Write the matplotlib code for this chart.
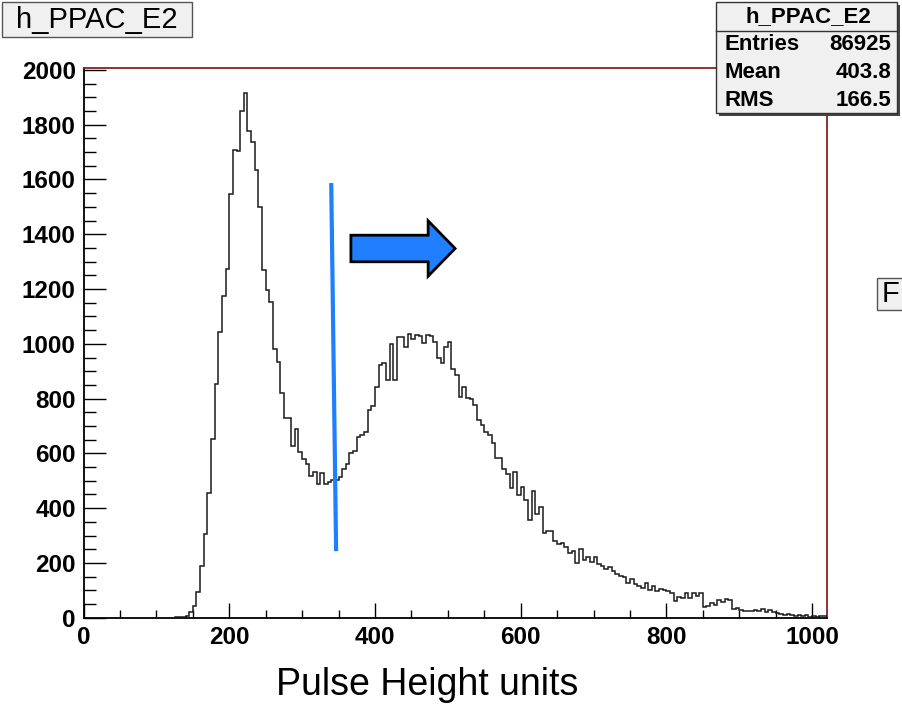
import numpy as np
import matplotlib
matplotlib.use("Agg")
import matplotlib.pyplot as plt
import matplotlib.patches as mpatches

plt.rcParams['font.family'] = ['Liberation Sans', 'DejaVu Sans']

# histogram h_PPAC_E2: 5-unit bins from 0 to 1020
bin_lo, bin_hi, bin_width = 0, 1020, 5
counts = [
    0, 0, 0, 0, 0, 0, 0, 0, 0, 0,                                # 0-50
    0, 0, 0, 0, 0, 0, 0, 0, 0, 0,                                # 50-100
    0, 0, 0, 0, 0, 1, 2, 3, 8, 22,                               # 100-150
    43, 93, 189, 306, 456, 651, 853, 1044, 1174, 1272,           # 150-200
    1546, 1706, 1704, 1851, 1915, 1778, 1738, 1635, 1498, 1269,  # 200-250
    1196, 1151, 980, 935, 819, 728, 728, 627, 688, 606,          # 250-300
    578, 561, 517, 533, 487, 527, 487, 497, 503, 503,            # 300-350
    515, 542, 561, 600, 609, 661, 667, 679, 758, 773,            # 350-400
    843, 922, 931, 868, 998, 868, 1026, 1026, 987, 1036,         # 400-450
    1016, 1032, 1028, 1002, 1032, 1028, 1008, 947, 929, 987,     # 450-500
    1005, 908, 886, 807, 841, 801, 798, 776, 722, 703,           # 500-550
    679, 667, 637, 584, 584, 542, 524, 472, 533, 448,            # 550-600
    476, 430, 357, 464, 379, 403, 310, 318, 318, 280,            # 600-650
    268, 274, 257, 237, 245, 200, 250, 211, 222, 205,            # 650-700
    222, 195, 190, 178, 185, 170, 160, 152, 147, 128,            # 700-750
    142, 122, 114, 110, 125, 102, 114, 98, 106, 101,             # 750-800
    98, 90, 62, 77, 71, 90, 71, 92, 80, 90,                      # 800-850
    40, 42, 52, 46, 65, 58, 67, 65, 31, 34,                      # 850-900
    28, 26, 25, 23, 28, 23, 31, 22, 28, 19,                      # 900-950
    17, 14, 10, 12, 9, 7, 10, 7, 9, 4,                           # 950-1000
    8, 4, 5, 6,                                                  # 1000-1020
]
edges = np.arange(bin_lo, bin_hi + bin_width, bin_width)

hist_name = 'h_PPAC_E2'
stats_labels = ['Entries', 'Mean', 'RMS']
stats_values = ['86925', '403.8', '166.5']
x_label = 'Pulse Height units'

# cut line and arrow drawn over the histogram (data units)
cut_line_x = [340, 346.7]
cut_line_y = [1587, 243]
arrow_x0, arrow_x1, arrow_y = 367, 510, 1348

W, H = 902, 704
def fx(px):
    return px / W
def fy(py):
    return 1 - py / H

fig = plt.figure(figsize=(W / 100, H / 100), dpi=100)
fig.patch.set_facecolor('white')
ax = fig.add_axes([fx(83.5), fy(617.7), fx(826.7) - fx(83.5), fy(68) - fy(617.7)])

ax.stairs(counts, edges, color='#1a1a1a', lw=1.1, zorder=3)
ax.set_xlim(0, 1020)
ax.set_ylim(0, 2007)

ax.set_xticks(np.arange(0, 1001, 200))
ax.set_xticks(np.arange(0, 1001, 50), minor=True)
ax.set_yticks(np.arange(0, 2001, 200))
ax.set_yticks(np.arange(0, 2001, 50), minor=True)
ax.tick_params(axis='x', which='major', direction='in', length=11, width=1, pad=6)
ax.tick_params(axis='x', which='minor', direction='in', length=6, width=1)
ax.tick_params(axis='y', which='major', direction='in', length=16, width=1, pad=5.5)
ax.tick_params(axis='y', which='minor', direction='in', length=8.5, width=1)
for lab in ax.get_xticklabels() + ax.get_yticklabels():
    lab.set_fontweight('bold')
    lab.set_fontsize(17.5)

for side in ['top', 'right']:
    ax.spines[side].set_color('#8b2020')
    ax.spines[side].set_linewidth(1.3)
for side in ['left', 'bottom']:
    ax.spines[side].set_color('black')
    ax.spines[side].set_linewidth(1.3)

# axis title sits left of the frame centre, as in the original canvas
fig.text(fx(427), fy(685), x_label, fontsize=27, ha='center', va='center')

ax.plot(cut_line_x, cut_line_y, color='#1e7fff', lw=3, solid_capstyle='butt', zorder=5)
arrow = mpatches.FancyArrow(arrow_x0, arrow_y, arrow_x1 - arrow_x0, 0, width=97,
                            head_width=202, head_length=37, length_includes_head=True,
                            facecolor='#1f7fff', edgecolor='black', lw=2, zorder=6)
ax.add_patch(arrow)

# title box
fig.patches.append(mpatches.Rectangle((fx(2), fy(37)), fx(192) - fx(2), fy(2) - fy(37),
                                      transform=fig.transFigure, facecolor='#f0f0f0',
                                      edgecolor='#555555', lw=1))
fig.text(fx(97), fy(20), hist_name, fontsize=21, ha='center', va='center')

# stats box
box_l, box_r, box_t, box_b = 716, 897, 2, 113
fig.patches.append(mpatches.Rectangle((fx(box_l + 3), fy(box_b + 3)), fx(box_r) - fx(box_l), fy(box_t) - fy(box_b),
                                      transform=fig.transFigure, facecolor='#444444', edgecolor='none'))
fig.patches.append(mpatches.Rectangle((fx(box_l), fy(box_b)), fx(box_r) - fx(box_l), fy(box_t) - fy(box_b),
                                      transform=fig.transFigure, facecolor='#f0f0f0',
                                      edgecolor='#333333', lw=1))
fig.lines.append(plt.Line2D([fx(box_l), fx(box_r)], [fy(31), fy(31)], transform=fig.transFigure,
                            color='#333333', lw=1))
fig.text(fx(808), fy(17), hist_name, fontsize=16, fontweight='bold', ha='center', va='center')
for i, (lab, val) in enumerate(zip(stats_labels, stats_values)):
    yy = fy(45 + 28 * i)
    fig.text(fx(724), yy, lab, fontsize=16, fontweight='bold', ha='left', va='center')
    fig.text(fx(891), yy, val, fontsize=16, fontweight='bold', ha='right', va='center')

# partially visible box at the right edge
fig.patches.append(mpatches.Rectangle((fx(877), fy(310)), fx(930) - fx(877), fy(278) - fy(310),
                                      transform=fig.transFigure, facecolor='#f0f0f0',
                                      edgecolor='#555555', lw=1))
fig.text(fx(882), fy(294), 'F', fontsize=21, ha='left', va='center')

fig.savefig('out.png', dpi=100, facecolor='white')
